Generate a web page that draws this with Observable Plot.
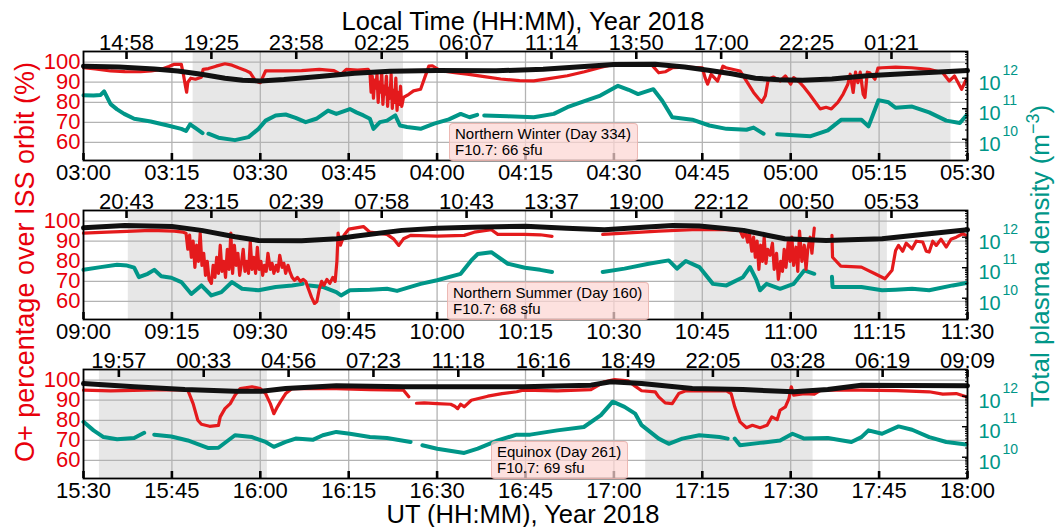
<!DOCTYPE html>
<html><head><meta charset="utf-8">
<script src="https://cdn.jsdelivr.net/npm/d3@7"></script>
<script src="https://cdn.jsdelivr.net/npm/@observablehq/plot@0.6"></script>
<style>
body{margin:0;background:#fff;}
#wrap{position:relative;width:1055px;height:527px;overflow:hidden;font-family:"Liberation Sans",Arial,sans-serif;}
.panel{position:absolute;left:0;}
.box{position:absolute;background:rgba(252,214,210,0.72);border:1px solid rgba(232,175,170,0.8);border-radius:4px;font-size:15px;line-height:16px;padding:2px 6px 2px 5px;color:#000;white-space:nowrap;}
</style></head>
<body><div id="wrap"></div>
<script>
// ---------- tick labels ----------
const UT_W = ["03:00","03:15","03:30","03:45","04:00","04:15","04:30","04:45","05:00","05:15","05:30"];
const UT_S = ["09:00","09:15","09:30","09:45","10:00","10:15","10:30","10:45","11:00","11:15","11:30"];
const UT_E = ["15:30","15:45","16:00","16:15","16:30","16:45","17:00","17:15","17:30","17:45","18:00"];
const LT_W = ["14:58","19:25","23:58","02:25","06:07","11:14","13:50","17:00","22:25","01:21"];
const LT_S = ["20:43","23:15","02:39","07:58","10:43","13:37","19:00","22:12","00:50","05:53"];
const LT_E = ["19:57","00:33","04:56","07:23","11:18","16:16","18:49","22:05","03:28","06:19","09:09"];
// local-time tick positions, minutes after panel start (UT)
const LT_POS_WS = [7.3,21.7,36.1,50.6,65.0,79.4,93.8,108.2,122.7,137.1];
const LT_POS_E = [6.0,20.4,34.8,49.2,63.6,78.0,92.4,106.8,121.2,135.6,150.0];
const PCT_TICKS = [60,70,80,90,100];
const DENS_EXP = [10,11,12];

// ---------- night intervals (minutes after panel start) ----------
const NIGHT_W = [[18.6,54.3],[111.4,147.2]];
const NIGHT_S = [[7.6,43.6],[100.3,136.4]];
const NIGHT_E = [[2.7,31.2],[95.4,123.8]];

// ---------- Northern Winter (Day 334), start 03:00 UT ----------
const RED_W = [[0,97.2],[2,96.6],[4.6,95.6],[7,95.3],[9.7,95.2],[11.5,95.6],[13.2,96.4],[14.5,97.8],[15.4,98.9],[16.6,98.9],[17,93.1],[17.3,88],[17.5,85],[17.7,90],[18.2,92],[19,91.5],[20,92.5],[20.3,96.4],[21.2,96.8],[22.5,98],[24,99.2],[25.2,98.5],[26.3,97.2],[27.4,96],[28.3,94.7],[29.2,90.6],[30,89.8],[30.5,93],[30.9,95.6],[34.3,95.6],[37,95.8],[40,96.4],[42.5,95.8],[43.7,93.9],[44.6,96.4],[46.5,96],[48.3,96.4],
[48.6,95],[48.8,85],[49,93],[49.2,82],[49.4,91],[49.6,87],[49.8,94],[50,80],[50.2,90],[50.4,85],[50.6,95],[50.8,79],[51,88],[51.2,84],[51.4,93],[51.6,78],[51.8,87],[52,82],[52.2,94],[52.4,77],[52.6,86],[52.8,80],[53,92],[53.2,76],[53.4,85],[53.6,79],[53.8,88],[54,78],[54.3,82.4],
[55.2,84],[56,85.7],[57.2,86.5],[57.9,92.3],[58.6,98],[59.2,98.2],[60.6,95.7],[63,94.8],[65.1,94],[68,92.8],[70.8,91.6],[74,90.8],[76.4,90.7],[79,91.8],[82.1,93.2],[85,95.2],[87.7,97.4],[90,99],[93.6,98.5],[96.5,98.4],[97.6,94.7],[98.7,95.2],[99.9,97.2],[102,97.5],[105,97.2],[105.5,92],[105.9,89],[106.5,93.9],[107.6,90.6],[108.5,98],[109,97.2],[111.4,95.6],[112.5,90.6],[113.7,84.9],[114.5,82],[115.1,80],[115.7,83.3],[116.2,91.5],[117.1,92.6],[118.2,90.6],[119.1,93.1],[120,89],[120.5,92.3],[121.5,90],[122.3,87.4],[123.2,84],[124,80.8],[125,76.7],[126,77.5],[126.9,76.7],[128,80],[128.9,84.1],[129.7,89],[130.1,94],[130.6,84.9],[131,95],[131.4,89.8],[131.8,95],[132.3,84],[132.6,82.4],[133,95],[133.4,94.7],[134.3,91.5],[134.8,97],[135.5,97.2],[137.8,97.5],[140.5,97.2],[143.5,96.4],[145.8,94.7],[146.9,90.6],[147.8,93.1],[149,86.5],[149.8,91.5]];
const BLACK_W = [[0,98],[6,97.6],[12,96.6],[16,95.6],[20,94],[24,92],[27,91],[30,90.6],[34,91.3],[40,92.8],[46,94.5],[52,95.5],[60,95.8],[70,95.7],[78,96.4],[85,97.8],[90,98.8],[97,98.9],[102,97.6],[106,96],[110,94.2],[114,92],[118,91.2],[122,91],[127,91.6],[133,93.2],[140,94.4],[146,95.2],[150,95.8]];
// log10 of total plasma density (m^-3)
const DENS_W = [[0,11.44],[1.7,11.43],[2.9,11.45],[3.5,11.57],[4.6,11.15],[5.7,10.98],[6.9,10.83],[8.6,10.67],[11.4,10.58],[14.3,10.45],[16.6,10.34],[17.4,10.27],[18.1,10.49],[19.2,10.34],[20.2,10.2],[20.6,NaN],[21.2,10.18],[22.9,10.05],[25.7,9.97],[28,10.07],[29.7,10.34],[30.9,10.61],[32.6,10.78],[34.3,10.81],[36,10.70],[37.7,10.56],[39.5,10.67],[41.5,10.94],[42.9,10.83],[45.2,10.99],[46.3,10.88],[47.5,10.78],[48.6,10.67],[49.2,10.34],[50.3,10.56],[51.5,10.61],[52.9,10.78],[53.7,10.45],[54.9,10.40],[57.2,10.34],[59.5,10.51],[62,10.65],[64,10.83],[65.5,10.72],[66.8,10.80],[67.3,NaN],[68,10.78],[72,10.75],[76.4,10.72],[79.8,10.83],[82.1,11.05],[85,11.25],[87.7,11.43],[90.7,11.75],[92.5,11.62],[94.1,11.48],[96.7,11.64],[98.2,11.26],[99.9,10.72],[103.3,10.64],[106.2,10.45],[109.1,10.34],[112.5,10.31],[113.7,10.38],[115.4,10.18],[116.3,NaN],[117.7,10.16],[120.5,10.13],[123.4,10.10],[126.3,10.29],[128.6,10.64],[132,10.64],[133.2,10.42],[134.9,11.28],[136.6,11.21],[137.8,11.03],[140.6,11.07],[143.5,10.88],[146.4,10.61],[148.7,10.53],[149.8,10.78]];

// ---------- Northern Summer (Day 160), start 09:00 UT ----------
const RED_S = [[0,94],[4,94.5],[7.4,94.9],[11.4,95.4],[15.4,95],[16.9,94.5],
[17.4,94],[17.7,86],[18,93],[18.3,82],[18.6,90],[18.9,77],[19.2,88],[19.5,80],[19.8,94],[20.1,78],[20.4,84],[20.7,73],[21,80],[21.3,71],[21.7,69],[22,78],[22.3,72],[22.6,82],[22.9,74],[23.2,88],[23.5,75],[23.8,80],[24.1,72],[24.4,86],[24.7,76],[25,94],[25.3,74],[25.6,88],[25.9,78],[26.2,84],[26.5,73],[26.8,79],[27.1,86],[27.4,75],[27.7,80],[28,74],[28.3,90],[28.6,76],[28.9,82],[29.2,74],[29.5,87],[29.8,76],[30.1,80],[30.4,73],[30.7,78],[31,75],[31.3,84],[31.7,76],[32,79],[32.3,74],[32.7,78],[33,75],[33.3,83],[33.7,77],[34,79],[34.3,74],[34.7,78],[35,75],[35.4,72],[35.8,70.5],[36.3,72],[36.8,70],[37.3,71],[37.7,70],[38.2,66],[38.7,62],[39.2,59],[39.6,60],[40,66],[40.4,70],[40.8,68],[41.3,71],[41.8,69],[42.3,72],[42.7,70],[43,80],[43.2,94],[43.6,88],[44.2,93],[45,96],
[47.5,97.3],[48.6,94.5],[51.5,93.4],[52.6,91.2],[53.5,87.9],[54.3,91.2],[55.5,92.9],[60,92.5],[64.6,92.9],[66.3,94.5],[69.2,95.7],[70.3,93.4],[74.9,93.4],[77.5,93.2],[79.5,92.4],[80,NaN],[88.1,93.4],[91.8,94],[97.6,95],[103.3,95.7],[109.1,95.7],[111.4,95.4],
[111.9,92],[112.3,95],[112.7,89.5],[113,94],[113.4,85],[113.7,92],[114,82],[114.3,90],[114.6,76],[114.9,88],[115.2,80],[115.5,92],[115.8,79],[116.1,86],[116.5,83],[116.9,89],[117.2,76],[117.6,84],[117.9,71],[118.3,80],[118.6,75],[118.9,86],[119.2,77],[119.6,90],[119.9,80],[120.2,92],[120.5,78],[120.9,87],[121.2,75],[121.5,95],[121.9,80],[122.3,88],[122.6,76],[122.9,86],[123.3,92],[123.6,84],[124,96.5],[124.3,NaN],
[127,92.9],[127.1,82],[128.5,77.6],[132,77.1],[134.3,73.8],[136,71.3],[137.2,75.5],[137.8,85.4],[138.3,87.9],[139,85],[139.6,89],[140.6,86.2],[141.3,90],[142.4,89.6],[143,85],[143.5,84.6],[144.1,90],[144.7,87.9],[145.5,91],[146.4,87.1],[147.2,91],[148.1,92],[149.2,93.7],[149.8,92.9]];
const BLACK_S = [[0,96.7],[7,97.8],[15,97.3],[20,95.4],[25.7,92.2],[29.7,90.4],[37,90.2],[43,91.2],[46,92.5],[54,95.4],[60,96.4],[66,97],[75,97.5],[82,96.4],[88.4,95.7],[95,96.9],[100,97.8],[104.5,97.6],[108,96.6],[112,95.4],[116,93],[119,91.2],[126,90.4],[135.5,91.2],[143.5,93.7],[150,95.7]];
const DENS_S = [[0,10.93],[2.9,11.02],[5.7,11.10],[7.4,11.07],[8.6,11.0],[9.4,10.69],[10.9,10.80],[12,10.93],[13.2,10.72],[14.9,10.67],[16.6,10.53],[18.3,10.14],[20,10.42],[21.7,10.09],[23.4,10.20],[25.2,10.53],[26.9,10.31],[29.7,10.26],[32.6,10.37],[35.4,10.42],[37.2,10.47],[37.7,NaN],[38.3,10.42],[40.6,10.37],[42.9,10.20],[43.7,10.09],[45.2,10.26],[48.6,10.28],[51.5,10.31],[53.2,10.24],[57.2,10.47],[60,10.59],[64,10.80],[65.8,11.24],[66.9,11.45],[69.2,11.51],[72,11.13],[74.9,11.0],[77.5,10.93],[79.5,10.86],[80,NaN],[88.1,10.86],[91.8,10.97],[95.9,11.13],[99.3,11.24],[100.7,10.97],[102.2,11.22],[104.5,11.02],[106.8,10.47],[109.1,10.42],[111.9,10.69],[113.1,11.02],[114.2,10.59],[114.8,10.26],[115.9,10.47],[118.2,10.31],[120.5,10.47],[122.3,10.91],[124,10.80],[124.3,NaN],[127,10.70],[127.1,10.37],[132,10.37],[135.5,10.26],[137.8,10.28],[140.6,10.31],[143.5,10.26],[147.5,10.42],[149.8,10.50]];

// ---------- Equinox (Day 261), start 15:30 UT ----------
const RED_E = [[0,95],[4.6,94.7],[10.3,95],[14.3,95.3],[17.7,95],[18.6,88.3],[19.4,80],[20,78],[21.4,77],[22.9,77.5],[23.2,81.7],[24,85.8],[24.9,88.3],[25.7,92.5],[26.6,95.8],[28.6,96.7],[30,95.8],[30.9,93.3],[31.7,88.3],[32.3,83.3],[32.9,86.7],[33.4,89.2],[34.3,93.3],[35.4,95.8],[42.9,95.8],[48.6,95.3],[54.3,95],[55.2,91.7],[55.5,NaN],[56.5,88.5],[57.8,88.7],[60,88.3],[62.3,88],[63,87],[63.5,85.8],[64,88],[64.6,86.7],[65.8,90],[68.6,92],[71,93.3],[73.5,94.2],[74.6,95],[80.4,94.7],[86.1,95.3],[88.4,99.2],[90.1,100.3],[92.4,99.7],[93.6,97],[94.7,94.7],[97,94.2],[97.6,91.7],[98.7,88.7],[99.9,88.3],[101,93.3],[102.2,94.7],[109.1,94.7],[109.9,93.3],[110.5,86.7],[111.4,79.2],[112.5,76.3],[113.5,77.5],[114.8,76.3],[116,77.5],[116.8,81.7],[117.7,80.3],[118.2,85],[119.1,86.7],[119.7,90.8],[120.1,96.7],[120.5,92.5],[122.3,93.3],[124,93],[125.1,95],[132,95],[138,94.8],[143.5,94.2],[145.8,93],[148.1,93.3],[149.8,91.7]];
const BLACK_E = [[0,98.3],[8.6,96.7],[17.2,95.3],[25.7,94.5],[30.2,94.5],[34.3,95.8],[42.9,97.2],[54.3,96.7],[74.6,96.7],[86.1,97.5],[89.5,99.2],[94.7,98.3],[103.3,95.8],[111.9,95.3],[120.5,94.2],[126.3,95.3],[132,97.5],[140,97.3],[150,97.2]];
const DENS_E = [[0,11.16],[1.7,10.88],[3.4,10.66],[5.7,10.59],[8.6,10.63],[10.3,10.80],[10.8,NaN],[12,10.74],[14.9,10.68],[17.7,10.55],[21.2,10.30],[22.9,10.31],[25.7,10.72],[28.6,10.66],[30.9,10.50],[32.3,10.34],[34.3,10.50],[36,10.61],[38.9,10.57],[40.6,10.72],[42.9,10.83],[45.2,10.77],[48.6,10.66],[51.5,10.63],[55.5,10.50],[56.3,NaN],[57.5,10.39],[60,10.28],[64.6,10.14],[66.9,10.28],[70.3,10.55],[73.5,10.74],[75.8,10.74],[80.4,10.88],[84.9,10.99],[87.8,11.38],[89.8,11.82],[91.8,11.65],[93.6,11.43],[94.7,11.05],[97.6,10.61],[99.3,10.44],[101.6,10.61],[104.5,10.72],[107.9,10.66],[109.3,10.61],[109.9,NaN],[110.5,10.61],[111.4,10.39],[114.8,10.47],[118.2,10.55],[120.3,10.77],[122.3,10.61],[126.3,10.63],[130.3,10.50],[132,10.66],[133.2,10.88],[135.5,10.77],[138.3,11.01],[140.6,10.90],[143.5,10.66],[146.4,10.50],[149.8,10.42]];

// ---------- drawing ----------
const RED = "#e41a1c", RED_TXT = "#e8000b", TEAL = "#009688", BLACK = "#111111";
const FONT = "Liberation Sans, Arial, sans-serif";
const Y_DOMAIN = [51, 105.3];
// twin axis: density (log) mapped onto the percentage axis
const densToPct = d3.scaleLog().domain([1e10, 1e12]).range([61.6, 92.0]);

const panels = [
  {top: 21, ut: UT_W, lt: LT_W, ltPos: LT_POS_WS, night: NIGHT_W, red: RED_W, black: BLACK_W, dens: DENS_W, box: ["Northern Winter (Day 334)", "F10.7: 66 sfu"], boxLeft: 449},
  {top: 180, ut: UT_S, lt: LT_S, ltPos: LT_POS_WS, night: NIGHT_S, red: RED_S, black: BLACK_S, dens: DENS_S, box: ["Northern Summer (Day 160)", "F10.7: 68 sfu"], boxLeft: 447},
  {top: 339, ut: UT_E, lt: LT_E, ltPos: LT_POS_E, night: NIGHT_E, red: RED_E, black: BLACK_E, dens: DENS_E, box: ["Equinox (Day 261)", "F10.7: 69 sfu"], boxLeft: 491}
];

const wrap = document.getElementById("wrap");

// titles
const ns = "http://www.w3.org/2000/svg";
const bg = document.createElementNS(ns, "svg");
bg.setAttribute("width", 1055); bg.setAttribute("height", 527);
bg.style.position = "absolute"; bg.style.left = "0"; bg.style.top = "0";
bg.innerHTML = `
<text x="523" y="29.5" text-anchor="middle" font-size="25.5" font-family="${FONT}" fill="#000">Local Time (HH:MM), Year 2018</text>
<text x="523" y="523" text-anchor="middle" font-size="25.5" font-family="${FONT}" fill="#000">UT (HH:MM), Year 2018</text>
<text transform="translate(33.5,262) rotate(-90)" text-anchor="middle" font-size="27" font-family="${FONT}" fill="${RED_TXT}">O+ percentage over ISS orbit (%)</text>
<text transform="translate(1049,256) rotate(-90)" text-anchor="middle" font-size="26" font-family="${FONT}" fill="${TEAL}">Total plasma density (m<tspan dy="-10" font-size="18">−3</tspan><tspan dy="10">)</tspan></text>`;
wrap.appendChild(bg);

function makePanel(p) {
  const utPos = p.ut.map((_, i) => i * 15);
  const utMap = new Map(utPos.map((v, i) => [v, p.ut[i]]));
  const ltMap = new Map(p.ltPos.map((v, i) => [v, p.lt[i]]));
  const redRows = p.red.map(([t, v]) => ({t, v}));
  const blackRows = p.black.map(([t, v]) => ({t, v}));
  const densRows = p.dens.map(([t, lg]) => ({t, n: Number.isFinite(lg) ? 10 ** lg : NaN}));
  const minors = [];
  for (let e = 9; e <= 12; e++) for (let m = 2; m <= 9; m++) {
    const y = densToPct(m * 10 ** e);
    if (y > Y_DOMAIN[0] && y < Y_DOMAIN[1]) minors.push(m * 10 ** e);
  }
  return Plot.plot({
    width: 1055, height: 169,
    marginLeft: 83, marginRight: 88, marginTop: 30, marginBottom: 30,
    style: {fontFamily: FONT, fontSize: "22px", background: "transparent", overflow: "visible"},
    x: {domain: [0, 150]},
    y: {domain: Y_DOMAIN},
    marks: [
      Plot.rect(p.night, {x1: d => d[0], x2: d => d[1], fill: "#e7e7e7"}),
      Plot.gridX(utPos, {stroke: "#b3b3b3", strokeOpacity: 1, strokeWidth: 1.3}),
      Plot.gridY(PCT_TICKS, {stroke: "#b3b3b3", strokeOpacity: 1, strokeWidth: 1.3}),
      Plot.line(densRows, {x: "t", y: d => Number.isFinite(d.n) ? densToPct(d.n) : NaN, stroke: TEAL, strokeWidth: 4, strokeLinejoin: "round"}),
      Plot.line(redRows, {x: "t", y: "v", stroke: RED, strokeWidth: 3.2, strokeLinejoin: "round"}),
      Plot.line(blackRows, {x: "t", y: "v", stroke: BLACK, strokeWidth: 5}),
      Plot.frame({stroke: "#000", strokeWidth: 1.8}),
      Plot.axisY({anchor: "left", ticks: PCT_TICKS, tickSize: 0, tickPadding: 3, fontSize: 22, color: RED_TXT, label: null}),
      Plot.axisX({anchor: "bottom", ticks: utPos, tickFormat: d => utMap.get(d), tickSize: 7, dy: -7, tickPadding: 4, strokeWidth: 2.6, fontSize: 22, color: "#000", label: null}),
      Plot.axisX({anchor: "top", ticks: p.ltPos, tickFormat: d => ltMap.get(d), tickSize: 7, dy: 7, tickPadding: 2, strokeWidth: 2.6, fontSize: 22, color: "#000", label: null}),
      Plot.axisY({anchor: "right", ticks: DENS_EXP.map(e => densToPct(10 ** e)), tickFormat: () => "", tickSize: 6, dx: -6, strokeWidth: 1.4, color: "#000", label: null}),
      Plot.axisY({anchor: "right", ticks: minors.map(v => densToPct(v)), tickFormat: () => "", tickSize: 3, dx: -3, strokeWidth: 1, color: "#000", label: null}),
      Plot.text(DENS_EXP, {y: e => densToPct(10 ** e), text: () => "10", frameAnchor: "right", textAnchor: "start", dx: 11, dy: 5, fontSize: 20, fill: TEAL}),
      Plot.text(DENS_EXP, {y: e => densToPct(10 ** e), text: e => String(e), frameAnchor: "right", textAnchor: "start", dx: 35, dy: -8, fontSize: 14, fill: TEAL})
    ]
  });
}

for (const p of panels) {
  const holder = document.createElement("div");
  holder.className = "panel";
  holder.style.top = p.top + "px";
  holder.appendChild(makePanel(p));
  wrap.appendChild(holder);
  const box = document.createElement("div");
  box.className = "box";
  box.style.left = p.boxLeft + "px";
  box.style.top = (p.top + 30 + 72) + "px";
  box.innerHTML = `<div>${p.box[0]}</div><div>${p.box[1]}</div>`;
  wrap.appendChild(box);
}
</script>
</body></html>
